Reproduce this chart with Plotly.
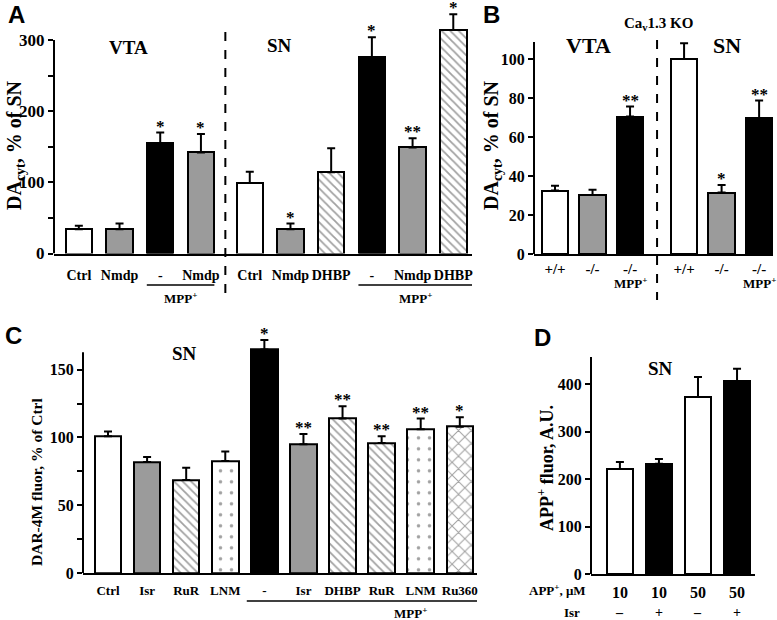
import plotly.graph_objects as go

W, H = 777, 620
SERIF = "Liberation Serif"
SANS = "Liberation Sans"
GRAY = "#9b9b9b"

# ---- data -------------------------------------------------------------
# Panel A : DAcyt, % of SN
a_labels = ["Ctrl", "Nmdp", "-", "Nmdp", "Ctrl", "Nmdp", "DHBP", "-", "Nmdp", "DHBP"]
a_pos = [0, 1, 2, 3, 4.2, 5.2, 6.2, 7.2, 8.2, 9.2]
a_vals = [34, 34, 155, 142, 99, 34, 114, 276, 149, 314]
a_err = [5, 8, 15, 26, 16, 8, 34, 28, 13, 22]
a_stars = ["", "", "*", "*", "", "*", "", "*", "**", "*"]
a_fill = ["white", "gray", "black", "gray", "white", "gray", "hatch", "black", "gray", "hatch"]
a_ticks = [0, 100, 200, 300]

# Panel B : Cav1.3 KO
b_labels = ["+/+", "-/-", "-/-", "+/+", "-/-", "-/-"]
b_pos = [0, 1, 2, 3.44, 4.44, 5.44]
b_vals = [32.5, 30.3, 70.5, 100, 31.5, 69.7]
b_err = [2.5, 2.6, 5.1, 8, 3.9, 9]
b_stars = ["", "", "**", "", "*", "**"]
b_fill = ["white", "gray", "black", "white", "gray", "black"]
b_mpp = [2, 5.44]
b_ticks = [0, 20, 40, 60, 80, 100]

# Panel C : DAR-4M fluor, % of Ctrl
c_labels = ["Ctrl", "Isr", "RuR", "LNM", "-", "Isr", "DHBP", "RuR", "LNM", "Ru360"]
c_pos = list(range(10))
c_vals = [101, 82, 68.6, 82.7, 165, 95, 114, 96, 106, 108]
c_err = [3.5, 3.7, 9, 7, 7, 7.6, 9, 5, 8, 7]
c_stars = ["", "", "", "", "*", "**", "**", "**", "**", "*"]
c_fill = ["white", "gray", "hatch", "dots", "black", "gray", "hatch", "hatch", "dots", "cross"]
c_ticks = [0, 50, 100, 150]

# Panel D : APP+ fluor
d_conc = ["10", "10", "50", "50"]
d_isr = ["\u2013", "+", "\u2013", "+"]
d_pos = [0, 1, 2, 3]
d_vals = [221, 232, 373, 406]
d_err = [15, 10, 42, 26]
d_fill = ["white", "black", "white", "black"]
d_ticks = [0, 100, 200, 300, 400]


def px(x):
    return x / W


def py(y):
    return 1 - y / H


FILLS = {
    "white": ("white", "", 8, 0.2),
    "gray": (GRAY, "", 8, 0.2),
    "black": ("black", "", 8, 0.2),
    "hatch": ("white", "\\", 6, 0.3),
    "dots": ("white", ".", 11, 0.08),
    "cross": ("white", "x", 9, 0.22),
}
BOLD = dict(family=SERIF, color="black", weight="bold")


def bars(pos, vals, err, fills, n, width):
    cols = [FILLS[f][0] for f in fills]
    return go.Bar(
        x=pos, y=vals, width=width,
        xaxis="x" + n, yaxis="y" + n,
        marker=dict(
            color=cols,
            line=dict(color="black", width=2),
            pattern=dict(
                fillmode="overlay",
                shape=[FILLS[f][1] for f in fills],
                size=[FILLS[f][2] for f in fills],
                solidity=[FILLS[f][3] for f in fills],
                fgcolor="black",
            ),
        ),
        error_y=dict(type="data", symmetric=False, array=err,
                     arrayminus=[0] * len(err), color="black",
                     thickness=2, width=4),
        hoverinfo="skip",
    )


fig = go.Figure()
fig.add_trace(bars(a_pos, a_vals, a_err, a_fill, "", 0.65))
fig.add_trace(bars(b_pos, b_vals, b_err, b_fill, "2", 0.71))
fig.add_trace(bars(c_pos, c_vals, c_err, c_fill, "3", 0.68))
fig.add_trace(bars(d_pos, d_vals, d_err, d_fill, "4", 0.67))


def xax(dom, rng, pos, labels, standoff, size, anchor):
    return dict(domain=dom, range=rng, tickvals=pos, ticktext=labels,
                showline=True, linecolor="black", linewidth=2, ticks="",
                tickfont=dict(BOLD, size=size), ticklabelstandoff=standoff,
                showgrid=False, zeroline=False, fixedrange=True,
                automargin=False, anchor=anchor)


def yax(dom, rng, ticks, minor, anchor, size=17):
    # the axis line is drawn as a shape so it can stop at the top tick
    d = dict(domain=dom, range=rng, tickvals=ticks,
             showline=False, ticks="outside", ticklen=5, tickwidth=2,
             tickcolor="black", tickfont=dict(BOLD, size=size),
             anchor=anchor, showgrid=False, zeroline=False,
             fixedrange=True, automargin=False)
    if minor:
        d["minor"] = dict(tickvals=minor, ticks="outside", ticklen=5,
                          tickwidth=2, tickcolor="black", showgrid=False)
    return d


def mids(ticks):
    return [(a + b) / 2 for a, b in zip(ticks[:-1], ticks[1:])]


fig.update_layout(
    template="none",
    width=W, height=H,
    margin=dict(l=0, r=0, t=0, b=0),
    paper_bgcolor="white", plot_bgcolor="rgba(0,0,0,0)",
    showlegend=False, bargap=0,
    xaxis=xax([px(54), px(472)], [-0.61, 9.66], a_pos, a_labels, 8, 14, "y"),
    yaxis=yax([py(253.5), py(253.5 - 345 * 0.7117)], [0, 345], a_ticks,
              mids(a_ticks), "x"),
    xaxis2=xax([px(534), px(773)], [-0.56, 5.81], b_pos, b_labels, 0, 15, "y2"),
    yaxis2=yax([py(254), py(42)], [0, 108.7], b_ticks, None, "x2", 16),
    xaxis3=xax([px(83), px(477)], [-0.64, 9.44], c_pos, c_labels, 4, 13, "y3"),
    yaxis3=yax([py(573), py(573 - 185 * 1.355)], [0, 185], c_ticks,
               mids(c_ticks), "x3", 16),
    xaxis4=xax([px(591), px(755)], [-0.74, 3.46], d_pos, d_conc, 3, 16, "y4"),
    yaxis4=yax([py(574), py(357)], [0, 457], d_ticks, None, "x4", 16),
)

ann = []


def txt(x, y, text, size, family=SERIF, **kw):
    d = dict(x=px(x), y=py(y), xref="paper", yref="paper", text=text,
             xanchor="center", yanchor="middle",
             showarrow=False, font=dict(BOLD, family=family, size=size))
    d.update(kw)
    ann.append(d)


def stars(pos, vals, err, marks, n):
    for x, v, e, s in zip(pos, vals, err, marks):
        if s:
            ann.append(dict(x=x, y=v + e, xref="x" + n, yref="y" + n,
                            text=s, showarrow=False, xanchor="center",
                            yanchor="bottom", yshift=-5,
                            font=dict(BOLD, size=17)))


stars(a_pos, a_vals, a_err, a_stars, "")
stars(b_pos, b_vals, b_err, b_stars, "2")
stars(c_pos, c_vals, c_err, c_stars, "3")

# panel letters
txt(16, 15, "A", 24, SANS)
txt(491, 15, "B", 24, SANS)
txt(13, 335, "C", 24, SANS)
txt(542, 337, "D", 24, SANS)

# region titles
txt(128, 47, "VTA", 19)
txt(279, 45, "SN", 19)
txt(658, 24, "Ca<sub>v</sub>1.3 KO", 15)
txt(588, 45, "VTA", 22)
txt(727, 45, "SN", 22)
txt(184, 353, "SN", 19)
txt(660, 368, "SN", 19)

# y axis titles
txt(15, 145, "DA<sub>cyt</sub>, % of SN", 20, textangle=-90)
txt(492, 145, "DA<sub>cyt</sub>, % of SN", 20, textangle=-90)
txt(36, 482, "DAR-4M fluor, % of Ctrl", 15.5, textangle=-90)
txt(545, 468, "APP<sup>+</sup> fluor, A.U.", 18, textangle=-90)

# MPP+ group labels
txt(180, 298, "MPP<sup>+</sup>", 13)
txt(415, 298, "MPP<sup>+</sup>", 13)
txt(410, 613, "MPP<sup>+</sup>", 13)
for x in b_mpp:
    ann.append(dict(x=x, y=py(283), xref="x2", yref="paper",
                    xanchor="center", yanchor="middle",
                    text="MPP<sup>+</sup>", showarrow=False,
                    font=dict(BOLD, size=13)))

# panel D second row
txt(588, 590, "APP<sup>+</sup>, \u03bcM", 13, xanchor="right")
txt(582, 612, "Isr", 13, xanchor="right")
for x, s in zip(d_pos, d_isr):
    ann.append(dict(x=x, y=py(612), xref="x4", yref="paper", text=s,
                    xanchor="center", yanchor="middle",
                    showarrow=False, font=dict(BOLD, size=14)))

fig.update_layout(annotations=ann)

shapes = []
# y axis lines up to the top tick
for n, top in [("", a_ticks[-1]), ("2", 108.7), ("3", 163),
               ("4", 457)]:
    shapes.append(dict(type="line", xref="x" + n + " domain", yref="y" + n,
                       x0=0, x1=0, y0=0, y1=top,
                       line=dict(color="black", width=2)))
# dashed separators
shapes.append(dict(type="line", xref="x", yref="paper", x0=3.6, x1=3.6,
                   y0=py(32), y1=py(300),
                   line=dict(color="black", width=2, dash="dash")))
shapes.append(dict(type="line", xref="x2", yref="paper", x0=2.72, x1=2.72,
                   y0=py(40), y1=py(300),
                   line=dict(color="black", width=2, dash="dash")))
# MPP+ underlines
for xr, x0, x1, y in [("x", 1.67, 3.33, 285), ("x", 6.87, 9.66, 285),
                      ("x3", 3.55, 9.44, 601)]:
    shapes.append(dict(type="line", xref=xr, yref="paper", x0=x0, x1=x1,
                       y0=py(y), y1=py(y), line=dict(color="black", width=1.5)))
fig.update_layout(shapes=shapes)

fig.write_html("out.html", config={"displayModeBar": False},
               post_script="document.body.style.margin='0';"
                           "document.body.style.overflow='hidden';")
